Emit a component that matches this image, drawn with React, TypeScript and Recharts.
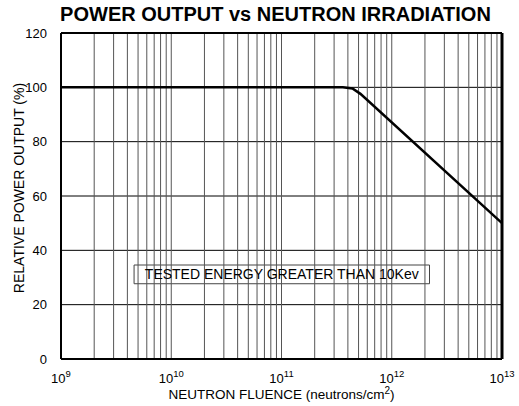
import React from 'react';
import { LineChart, Line, XAxis, YAxis, CartesianGrid, ReferenceLine, ReferenceArea, Label } from 'recharts';

const fluence = [1e9, 3.6e11, 4.4e11, 5.2e11, 1e13];
const power = [100, 100, 99.6, 97.6, 50];
const xTicks = [1e9, 1e10, 1e11, 1e12, 1e13];
const xTickExponents = ['9', '10', '11', '12', '13'];
const yTicks = [0, 20, 40, 60, 80, 100, 120];
const decades = [1e9, 1e10, 1e11, 1e12];
const minorMultipliers = [1, 2, 3, 4, 5, 6, 7, 8, 9];
const noteText = 'TESTED ENERGY GREATER THAN 10Kev';
const noteBox = { x1: 4.6e9, x2: 2.2e12, y1: 27.7, y2: 34.6 };

const data = fluence.map((x, i) => ({ x, y: power[i] }));
const gridValues: number[] = [];
decades.forEach((d) => minorMultipliers.forEach((m) => gridValues.push(d * m)));

const FONT = '"Liberation Sans", Arial, Helvetica, sans-serif';

const XTick = (props: any) => {
  const { x, y, payload } = props;
  const idx = xTicks.indexOf(payload.value);
  const exp = xTickExponents[idx] ?? '';
  return (
    <text x={x} y={y + 18} textAnchor="middle" fontFamily={FONT} fontSize={13} fill="#000">
      <tspan>10</tspan>
      <tspan dy={-6} fontSize={9.5}>{exp}</tspan>
    </text>
  );
};

export default function App() {
  return (
    <div style={{ position: 'absolute', left: 0, top: 0, width: 519, height: 406, background: '#fff', fontFamily: FONT }}>
      <div
        style={{
          position: 'absolute',
          left: 0,
          width: 551,
          top: 2,
          textAlign: 'center',
          fontWeight: 'bold',
          fontSize: 20,
          lineHeight: '24px',
          color: '#000',
          whiteSpace: 'nowrap',
        }}
      >
        POWER OUTPUT vs NEUTRON IRRADIATION
      </div>
      <LineChart width={519} height={406} data={data} margin={{ top: 33, right: 17, left: 0, bottom: 0 }}>
        <CartesianGrid vertical={false} stroke="#000" strokeWidth={1} />
        {gridValues.map((v) => (
          <ReferenceLine key={v} x={v} stroke="#555" strokeWidth={1} ifOverflow="hidden" />
        ))}
        <XAxis
          dataKey="x"
          type="number"
          scale="log"
          domain={[1e9, 1e13]}
          ticks={xTicks}
          interval={0}
          allowDataOverflow
          height={47}
          tickLine={false}
          tickMargin={0}
          axisLine={{ stroke: '#000', strokeWidth: 2 }}
          tick={<XTick />}
        >
          <Label
            content={(p: any) => {
              const vb = p.viewBox || {};
              const cx = (vb.x ?? 61) + (vb.width ?? 441) / 2;
              return (
                <text x={cx} y={399} textAnchor="middle" fontFamily={FONT} fontSize={13.5} fill="#000">
                  <tspan>NEUTRON FLUENCE (neutrons/cm</tspan>
                  <tspan dy={-5} fontSize={10}>2</tspan>
                  <tspan dy={5}>)</tspan>
                </text>
              );
            }}
          />
        </XAxis>
        <YAxis
          type="number"
          domain={[0, 120]}
          ticks={yTicks}
          width={61}
          tickLine={false}
          tickMargin={8}
          axisLine={{ stroke: '#000', strokeWidth: 2 }}
          tick={{ fill: '#000', fontSize: 13, fontFamily: FONT }}
        >
          <Label
            content={() => (
              <text
                x={24}
                y={188}
                transform="rotate(-90 24 188)"
                textAnchor="middle"
                fontFamily={FONT}
                fontSize={14}
                fill="#000"
              >
                RELATIVE POWER OUTPUT (%)
              </text>
            )}
          />
        </YAxis>
        <ReferenceLine y={120} stroke="#000" strokeWidth={2} />
        <ReferenceLine x={1e13} stroke="#000" strokeWidth={3} />
        <ReferenceArea
          x1={noteBox.x1}
          x2={noteBox.x2}
          y1={noteBox.y1}
          y2={noteBox.y2}
          fill="#fff"
          fillOpacity={1}
          stroke="#444"
          strokeWidth={1}
          label={{ value: noteText, position: 'center', fill: '#000', fontSize: 14, fontFamily: FONT }}
        />
        <Line
          type="linear"
          dataKey="y"
          stroke="#000"
          strokeWidth={2.5}
          dot={false}
          isAnimationActive={false}
        />
      </LineChart>
    </div>
  );
}
